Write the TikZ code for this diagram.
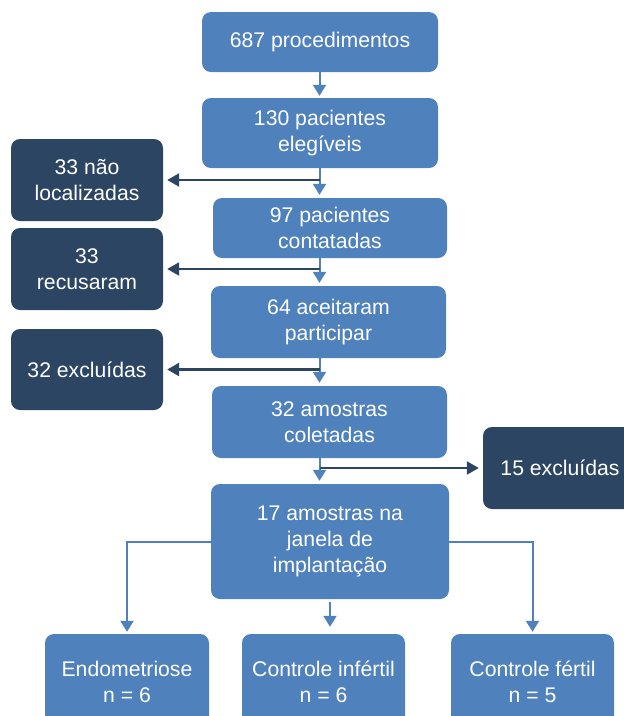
\documentclass[tikz,border=0pt]{standalone}
\usepackage{fontspec}
\setmainfont{Liberation Sans}
\usetikzlibrary{arrows.meta}

\definecolor{boxblue}{RGB}{79,129,189}
\definecolor{boxnavy}{RGB}{44,69,99}

\tikzset{
  stage/.style={rectangle, rounded corners=9pt, fill=boxblue, text=white,
    align=center, inner sep=0pt, font=\fontsize{21.2}{26}\selectfont},
  lost/.style={stage, fill=boxnavy},
  down/.style={draw=boxblue, line width=2pt, -{Triangle[width=13pt,length=11pt]}},
  aside/.style={draw=boxnavy, line width=2.4pt, -{Triangle[width=13pt,length=12pt]}, shorten >=4pt},
}

\begin{document}
\begin{tikzpicture}[x=1pt, y=-1pt]
\useasboundingbox (0,0) rectangle (624,716);

\coordinate (spine) at (319.5,0);

% main column
\node[stage, minimum width=236pt, minimum height=60pt] (proc) at (320,42) {687 procedimentos};
\node[stage, minimum width=236pt, minimum height=70pt] (eleg) at (320,133) {130 pacientes\\elegíveis};
\node[stage, minimum width=234pt, minimum height=60pt] (contat) at (330,228) {97 pacientes\\contatadas};
\node[stage, minimum width=235pt, minimum height=72pt] (aceit) at (328.5,322) {64 aceitaram\\participar};
\node[stage, minimum width=235pt, minimum height=72pt] (colet) at (329.5,422) {32 amostras\\coletadas};
\node[stage, minimum width=238pt, minimum height=115pt] (janela) at (330,541.5) {17 amostras na\\janela de\\implantação};

% losses
\node[lost, minimum width=152pt, minimum height=82pt] (naoloc) at (87,180) {33 não\\localizadas};
\node[lost, minimum width=152pt, minimum height=82pt] (recus) at (87,269) {33\\recusaram};
\node[lost, minimum width=152pt, minimum height=81pt] (exclA) at (87,369.5) {32 excluídas};
\node[lost, minimum width=154pt, minimum height=82pt] (exclB) at (560,468) {15 excluídas};

% groups
\node[stage, minimum width=164pt, minimum height=96pt] (endo) at (127,682) {Endometriose\\n = 6};
\node[stage, minimum width=163pt, minimum height=96pt] (infert) at (323.5,682) {Controle infértil\\n = 6};
\node[stage, minimum width=163pt, minimum height=96pt] (fert) at (532.5,682) {Controle fértil\\n = 5};

% flow
\draw[down, shorten >=2pt] (spine |- proc.south) -- (spine |- eleg.north);
\draw[down, shorten >=3pt] (spine |- eleg.south) -- (spine |- contat.north);
\draw[down, shorten >=3pt] (spine |- contat.south) -- (spine |- aceit.north);
\draw[down, shorten >=3pt] (spine |- aceit.south) -- (spine |- colet.north);
\draw[down, shorten >=3pt] (spine |- colet.south) -- (spine |- janela.north);

\draw[aside] (spine |- naoloc.east) -- (naoloc.east);
\draw[aside] (spine |- recus.east) -- (recus.east);
\draw[aside] (spine |- exclA.east) -- (exclA.east);
\draw[aside] (spine |- exclB.west) -- (exclB.west);

\draw[down, shorten >=2pt] (janela.west) -| (endo.north);
\draw[down, shorten <=3pt, shorten >=7pt] (janela.south) -- (janela.south |- infert.north);
\draw[down, shorten >=2pt] (janela.east) -| (fert.north);
\end{tikzpicture}
\end{document}
